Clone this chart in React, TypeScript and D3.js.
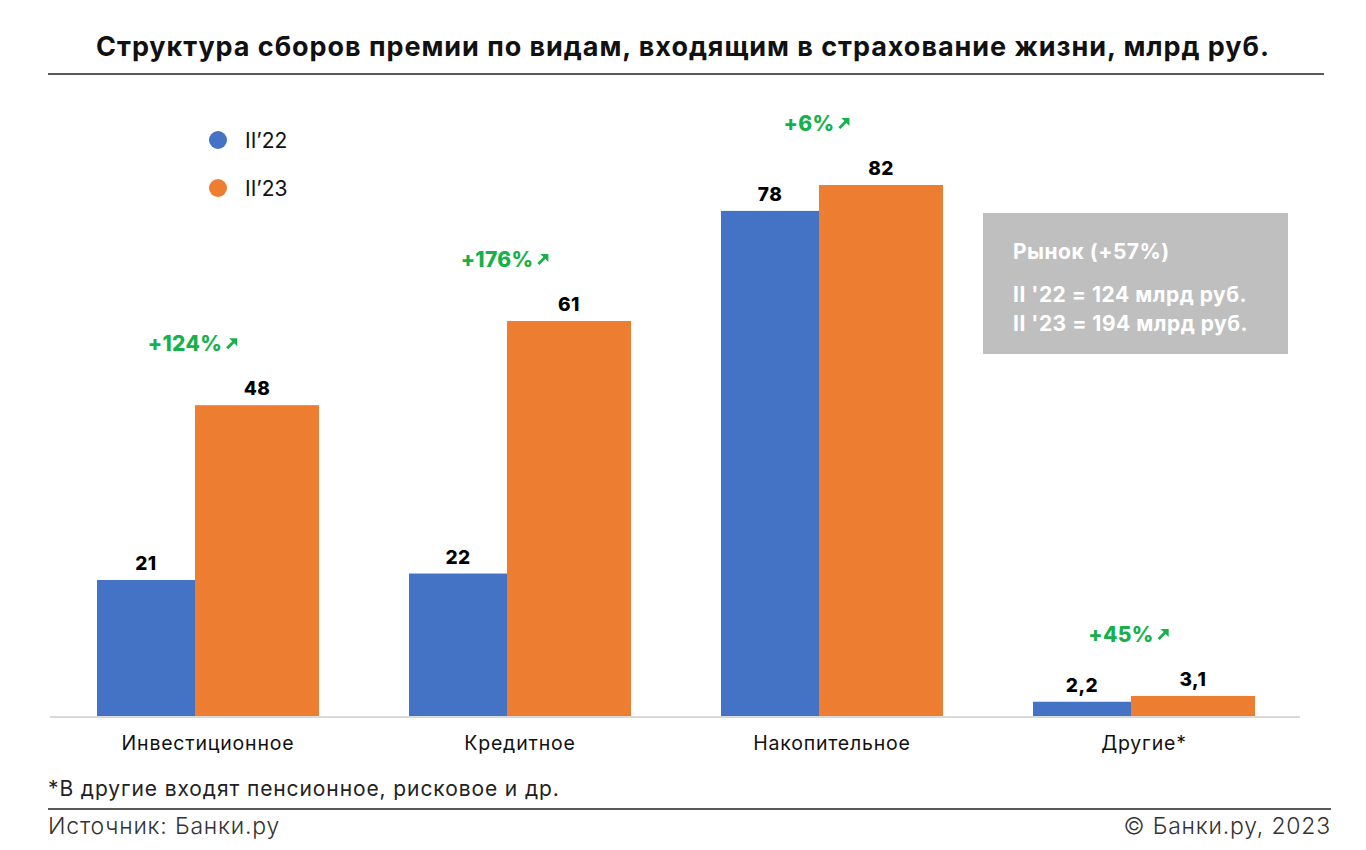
import React, { useEffect, useRef } from 'react';
import * as d3 from 'd3';

// Data
const categories = ['Инвестиционное', 'Кредитное', 'Накопительное', 'Другие*'];
const values22 = [21, 22, 78, 2.2];
const values23 = [48, 61, 82, 3.1];
const growth = ['+124%', '+176%', '+6%', '+45%'];
const seriesNames = ['II’22', 'II’23'];
const marketLines = ['Рынок (+57%)', "II '22 = 124 млрд руб.", "II '23 = 194 млрд руб."];

const W = 1366;
const H = 850;
const FONT = "Inter, 'Open Sans', sans-serif";
const BLUE = '#4472c4';
const ORANGE = '#ed7d31';
const GREEN = '#17b04a';

const fmt = (v: number) => String(v).replace('.', ',');

const App: React.FC = () => {
  const ref = useRef<SVGSVGElement>(null);

  useEffect(() => {
    const svg = d3.select(ref.current!);
    svg.selectAll('*').remove();

    const baseY = 716;
    const x = d3.scaleBand<string>().domain(categories).range([52, 1300]).padding(0);
    const y = d3.scaleLinear().domain([0, 82]).range([baseY, 185]);
    const blueW = 98;
    const orangeW = 124;
    const groupW = blueW + orangeW;
    const gx = (c: string) => x(c)! + (x.bandwidth() - groupW) / 2;

    // Title
    svg
      .append('text')
      .attr('x', 683)
      .attr('y', 56)
      .attr('text-anchor', 'middle')
      .attr('font-family', FONT)
      .attr('font-weight', 700)
      .attr('font-size', 27)
      .attr('letter-spacing', 0.95)
      .attr('fill', '#111')
      .text('Структура сборов премии по видам, входящим в страхование жизни, млрд руб.');

    svg.append('line').attr('x1', 48).attr('x2', 1324).attr('y1', 74).attr('y2', 74)
      .attr('stroke', '#222').attr('stroke-width', 1.5);

    // Baseline
    svg.append('line').attr('x1', 50).attr('x2', 1300).attr('y1', baseY + 1).attr('y2', baseY + 1)
      .attr('stroke', '#d9d9d9').attr('stroke-width', 2);

    const g = svg.append('g');

    // Bars
    g.selectAll('.b22').data(categories).enter().append('rect')
      .attr('x', (c) => gx(c))
      .attr('y', (_, i) => y(values22[i]))
      .attr('width', blueW)
      .attr('height', (_, i) => baseY - y(values22[i]))
      .attr('fill', BLUE);

    g.selectAll('.b23').data(categories).enter().append('rect')
      .attr('x', (c) => gx(c) + blueW)
      .attr('y', (_, i) => y(values23[i]))
      .attr('width', orangeW)
      .attr('height', (_, i) => baseY - y(values23[i]))
      .attr('fill', ORANGE);

    // Value labels
    const labelStyle = (sel: any) =>
      sel.attr('text-anchor', 'middle').attr('font-family', FONT).attr('font-weight', 800)
        .attr('font-size', 19).attr('letter-spacing', 0.5).attr('fill', '#000');

    g.selectAll('.l22').data(categories).enter().append('text')
      .attr('x', (c) => gx(c) + blueW / 2)
      .attr('y', (_, i) => y(values22[i]) - 10)
      .call(labelStyle)
      .text((_, i) => fmt(values22[i]));

    g.selectAll('.l23').data(categories).enter().append('text')
      .attr('x', (c) => gx(c) + blueW + orangeW / 2)
      .attr('y', (_, i) => y(values23[i]) - 10)
      .call(labelStyle)
      .text((_, i) => fmt(values23[i]));

    // Growth annotations with arrow
    categories.forEach((c, i) => {
      const cx = x(c)! + x.bandwidth() / 2 - 16;
      const ty = y(values23[i]) - 54;
      const t = g.append('text')
        .attr('x', cx - 7)
        .attr('y', ty)
        .attr('text-anchor', 'middle')
        .attr('font-family', FONT)
        .attr('font-weight', 800)
        .attr('font-size', 21)
        .attr('letter-spacing', 0.3)
        .attr('fill', GREEN)
        .text(growth[i]);
      const len = (t.node() as SVGTextElement).getComputedTextLength();
      const ax = cx - 7 + len / 2 + 5;
      const ay = ty - 3;
      g.append('line').attr('x1', ax).attr('y1', ay).attr('x2', ax + 7).attr('y2', ay - 7)
        .attr('stroke', GREEN).attr('stroke-width', 2.8);
      g.append('path')
        .attr('d', `M${ax + 2},${ay - 10} L${ax + 10},${ay - 10} L${ax + 10},${ay - 2} Z`)
        .attr('fill', GREEN);
    });

    // Category labels
    g.selectAll('.cat').data(categories).enter().append('text')
      .attr('x', (c) => x(c)! + x.bandwidth() / 2)
      .attr('y', 750)
      .attr('text-anchor', 'middle')
      .attr('font-family', FONT)
      .attr('font-size', 19.5)
      .attr('letter-spacing', 0.8)
      .attr('fill', '#111')
      .text((c) => c);

    // Legend
    const colors = [BLUE, ORANGE];
    seriesNames.forEach((n, i) => {
      const ly = 140 + i * 48;
      svg.append('circle').attr('cx', 218).attr('cy', ly).attr('r', 9).attr('fill', colors[i]);
      svg.append('text').attr('x', 245).attr('y', ly + 8).attr('font-family', FONT)
        .attr('font-size', 21).attr('fill', '#111').text(n);
    });

    // Market box
    svg.append('rect').attr('x', 983).attr('y', 213).attr('width', 305).attr('height', 141)
      .attr('fill', '#bfbfbf');
    marketLines.forEach((l, i) => {
      svg.append('text')
        .attr('x', 1013)
        .attr('y', i === 0 ? 259 : 302 + (i - 1) * 29)
        .attr('font-family', FONT)
        .attr('font-weight', 700)
        .attr('font-size', 21)
        .attr('letter-spacing', 0.5)
        .attr('fill', '#fff')
        .text(l);
    });

    // Footer
    svg.append('text').attr('x', 48).attr('y', 796).attr('font-family', FONT)
      .attr('font-size', 21).attr('letter-spacing', 0.9).attr('fill', '#222')
      .text('*В другие входят пенсионное, рисковое и др.');
    svg.append('line').attr('x1', 48).attr('x2', 1331).attr('y1', 809).attr('y2', 809)
      .attr('stroke', '#222').attr('stroke-width', 1.5);
    svg.append('text').attr('x', 48).attr('y', 834).attr('font-family', FONT)
      .attr('font-size', 23).attr('letter-spacing', 0.8).attr('font-weight', 300).attr('fill', '#333')
      .text('Источник: Банки.ру');
    svg.append('text').attr('x', 1331).attr('y', 834).attr('text-anchor', 'end')
      .attr('font-family', FONT).attr('font-size', 23).attr('letter-spacing', 0.8)
      .attr('font-weight', 300).attr('fill', '#333')
      .text('© Банки.ру, 2023');
  }, []);

  return (
    <svg
      ref={ref}
      width={W}
      height={H}
      style={{ position: 'absolute', left: 0, top: 0, background: '#fff' }}
    />
  );
};

export default App;
